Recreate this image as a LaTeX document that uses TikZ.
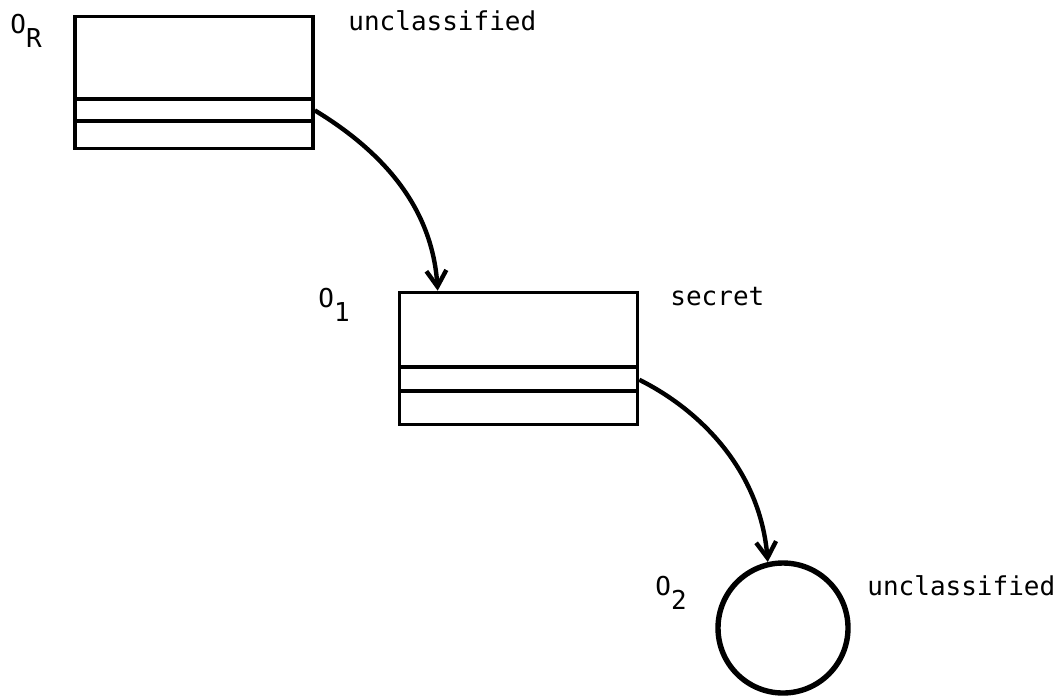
\documentclass[tikz,border=0pt]{standalone}
\usepackage{fontspec}
\setmonofont{DejaVu Sans Mono}
\usetikzlibrary{arrows.meta}

\tikzset{
  objbox/.style={draw, line width=1.8pt, minimum width=119pt, minimum height=66pt, inner sep=0pt},
  objcirc/.style={draw, circle, line width=2.7pt, minimum size=65pt, inner sep=0pt},
  lbl/.style={anchor=base west, inner sep=0pt, font=\ttfamily\fontsize{13}{15}\selectfont},
  ptr/.style={line width=2.2pt, -{Straight Barb[length=8pt,width=10pt,line width=2.2pt]}}
}
\newcommand{\objname}[1]{O\raisebox{-7pt}{#1}}

\begin{document}
\begin{tikzpicture}[x=0.5pt,y=-0.5pt]
  \useasboundingbox (0,0) rectangle (1063,696);
  \node[objbox] (r) at (194,82.5) {};
  \node[objbox] (o1) at (518.5,358.5) {};
  \node[objcirc] (o2) at (783,628) {};
  \draw[line width=1.8pt] (75,99) -- (313,99) (75,121) -- (313,121);
  \draw[line width=1.8pt] (400,367) -- (637,367) (400,391) -- (637,391);
  \node[lbl] (rname) at (10,33) {\objname{R}};
  \node[lbl] (rlev) at (348,30) {unclassified};
  \node[lbl] (o1name) at (318,307) {\objname{1}};
  \node[lbl] (o1lev) at (670,305) {secret};
  \node[lbl] (o2name) at (655,595) {\objname{2}};
  \node[lbl] (o2lev) at (867,595) {unclassified};
  \draw[ptr] (r.-13) .. controls (380,150) and (432,205) .. (o1.140);
  \draw[ptr] (o1.-10) .. controls (700,410) and (760,470) .. (o2.103);
\end{tikzpicture}
\end{document}
